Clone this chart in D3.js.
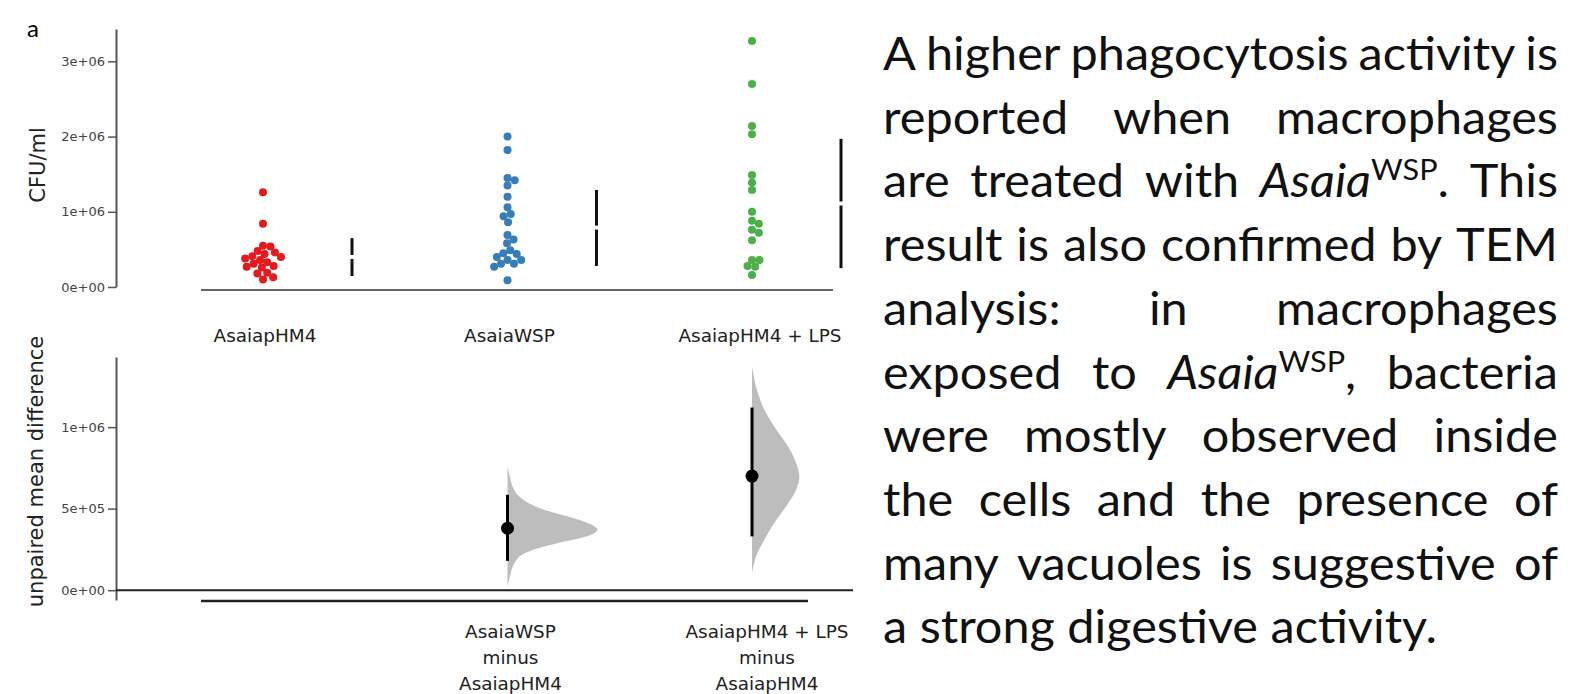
<!DOCTYPE html>
<html>
<head>
<meta charset="utf-8">
<script src="https://cdn.jsdelivr.net/npm/d3@7"></script>
<style>
  html, body { margin: 0; padding: 0; background: #fff; }
  svg { display: block; }
</style>
</head>
<body>
<div id="container"></div>
<script>
'use strict';

const w = 1574;
const h = 694;

// ---- data ----
const groups = ['AsaiapHM4', 'AsaiaWSP', 'AsaiapHM4 + LPS'];
const groupColors = ['#e41a1c', '#377eb8', '#4daf4a'];

const cfuPHM4 = [1.26e6, 0.84e6, 0.55e6, 0.54e6, 0.48e6, 0.46e6, 0.44e6, 0.41e6, 0.40e6, 0.38e6,
                 0.36e6, 0.33e6, 0.31e6, 0.28e6, 0.27e6, 0.26e6, 0.19e6, 0.18e6, 0.13e6, 0.10e6];
const cfuWSP = [2.00e6, 1.82e6, 1.45e6, 1.42e6, 1.35e6, 1.20e6, 1.06e6, 0.97e6, 0.94e6, 0.86e6,
                0.69e6, 0.63e6, 0.58e6, 0.49e6, 0.45e6, 0.44e6, 0.40e6, 0.36e6, 0.36e6, 0.31e6,
                0.31e6, 0.27e6, 0.09e6];
const cfuLPS = [3.27e6, 2.70e6, 2.14e6, 2.03e6, 1.49e6, 1.39e6, 1.29e6, 1.00e6, 0.88e6, 0.84e6,
                0.76e6, 0.72e6, 0.62e6, 0.36e6, 0.36e6, 0.28e6, 0.27e6, 0.16e6];

// mean +/- sd bars next to each swarm
const barMean = [0.40e6, 0.79e6, 1.11e6];
const barLow = [0.146e6, 0.28e6, 0.25e6];
const barHigh = [0.65e6, 1.29e6, 1.97e6];

const cfuTicks = [0, 1e6, 2e6, 3e6];
const diffTicks = [0, 5e5, 1e6];

// unpaired mean differences vs AsaiapHM4
const diffGroups = ['AsaiaWSP', 'AsaiapHM4 + LPS'];
const diffLabels = [['AsaiaWSP', 'minus', 'AsaiapHM4'], ['AsaiapHM4 + LPS', 'minus', 'AsaiapHM4']];
const diffMean = [0.38e6, 0.70e6];
const diffCiLow = [0.18e6, 0.33e6];
const diffCiHigh = [0.585e6, 1.12e6];

// bootstrap distributions: [difference, relative density]
const densWSP = [[0.759e6, 0], [0.697e6, 0.026], [0.636e6, 0.056], [0.574e6, 0.13], [0.513e6, 0.31],
                 [0.472e6, 0.54], [0.431e6, 0.80], [0.40e6, 0.94], [0.373e6, 1.0], [0.349e6, 0.96],
                 [0.318e6, 0.80], [0.287e6, 0.54], [0.246e6, 0.28], [0.205e6, 0.13], [0.143e6, 0.056],
                 [0.082e6, 0.026], [0.02e6, 0]];
const densLPS = [[1.374e6, 0], [1.251e6, 0.044], [1.128e6, 0.119], [1.005e6, 0.244], [0.882e6, 0.40],
                 [0.78e6, 0.489], [0.697e6, 0.526], [0.615e6, 0.489], [0.513e6, 0.378], [0.41e6, 0.244],
                 [0.308e6, 0.137], [0.205e6, 0.044], [0.103e6, 0]];

const paraLines = [
    ['A', 'higher', 'phagocytosis', 'activity', 'is'],
    ['reported', 'when', 'macrophages'],
    ['are', 'treated', 'with', [['Asaia', 'i'], ['WSP', 'sup'], ['.', '']], 'This'],
    ['result', 'is', 'also', 'confirmed', 'by', 'TEM'],
    ['analysis:', 'in', 'macrophages'],
    ['exposed', 'to', [['Asaia', 'i'], ['WSP', 'sup'], [',', '']], 'bacteria'],
    ['were', 'mostly', 'observed', 'inside'],
    ['the', 'cells', 'and', 'the', 'presence', 'of'],
    ['many', 'vacuoles', 'is', 'suggestive', 'of'],
    ['a', 'strong', 'digestive', 'activity.']
];

// ---- setup ----
const svg = d3.select('#container')
                .append('svg')
                .attr('width', w)
                .attr('height', h);

const axisX = 116;
const x = d3.scalePoint().domain(groups).range([263, 752]);
const yTop = d3.scaleLinear().domain([0, 3.43e6]).range([287, 29]);
const yBot = d3.scaleLinear().domain([-0.06e6, 1.43e6]).range([600, 357]);
const densW = d3.scaleLinear().domain([0, 1]).range([0, 90]);

const sci = (v) => {
    if (v === 0) return '0e+00';
    const e = Math.floor(Math.log10(v));
    const m = Math.round(v / Math.pow(10, e));
    return m + 'e+' + String(e).padStart(2, '0');
};

function styleAxis(g) {
    g.select('.domain').attr('stroke', '#555').attr('stroke-width', 2);
    g.selectAll('.tick line').attr('stroke', '#555').attr('stroke-width', 1.5);
    g.selectAll('.tick text')
        .attr('fill', '#444')
        .style('font-family', '"DejaVu Sans", sans-serif')
        .style('font-size', '13px');
}

// panel letter
svg.append('text')
    .attr('x', 27)
    .attr('y', 37)
    .style('font-family', 'Lato, sans-serif')
    .style('font-size', '24px')
    .text('a');

// ---- top panel: swarm plot ----
svg.append('g')
    .attr('transform', 'translate(' + axisX + ',0)')
    .call(d3.axisLeft(yTop).tickValues(cfuTicks).tickFormat(sci).tickSize(8).tickSizeOuter(0).tickPadding(3))
    .call(styleAxis);

svg.append('line')
    .attr('x1', 201).attr('x2', 833)
    .attr('y1', yTop(0) + 3).attr('y2', yTop(0) + 3)
    .attr('stroke', '#666')
    .attr('stroke-width', 2);

svg.append('text')
    .attr('transform', 'translate(45,' + ((yTop.range()[0] + yTop.range()[1]) / 2 + 7) + ') rotate(-90)')
    .attr('text-anchor', 'middle')
    .style('font-family', '"DejaVu Sans", sans-serif')
    .style('font-size', '21px')
    .attr('fill', '#222')
    .text('CFU/ml');

function swarm(values, cx, d) {
    const placed = [];
    values.map((v) => ({v: v, y: yTop(v)}))
        .sort((a, b) => a.y - b.y)
        .forEach((p) => {
            const cands = [0];
            placed.forEach((q) => {
                const dy = p.y - q.y;
                if (Math.abs(dy) < d) {
                    const dx = Math.sqrt(d * d - dy * dy);
                    cands.push(q.dx + dx, q.dx - dx);
                }
            });
            cands.sort((a, b) => Math.abs(a) - Math.abs(b));
            p.dx = cands.find((c) => placed.every((q) => (c - q.dx) ** 2 + (p.y - q.y) ** 2 >= d * d - 0.01));
            placed.push(p);
        });
    return placed.map((p) => ({x: cx + p.dx, y: p.y}));
}

[cfuPHM4, cfuWSP, cfuLPS].forEach((vals, i) => {
    svg.append('g')
        .selectAll('circle')
        .data(swarm(vals, x(groups[i]), 7.5))
        .enter()
        .append('circle')
        .attr('cx', (d) => d.x)
        .attr('cy', (d) => d.y)
        .attr('r', 4)
        .attr('fill', groupColors[i]);
});

const bars = svg.append('g');
groups.forEach((g, i) => {
    const bx = x(g) + 89;
    bars.append('line')
        .attr('x1', bx).attr('x2', bx)
        .attr('y1', yTop(barHigh[i])).attr('y2', yTop(barMean[i]) - 2)
        .attr('stroke', '#111').attr('stroke-width', 3);
    bars.append('line')
        .attr('x1', bx).attr('x2', bx)
        .attr('y1', yTop(barMean[i]) + 2).attr('y2', yTop(barLow[i]))
        .attr('stroke', '#111').attr('stroke-width', 3);
});

svg.append('g')
    .selectAll('text')
    .data(groups)
    .enter()
    .append('text')
    .attr('x', (d) => x(d) + (d === groups[2] ? 8 : 2))
    .attr('y', 342)
    .attr('text-anchor', 'middle')
    .style('font-family', '"DejaVu Sans", sans-serif')
    .style('font-size', '18.4px')
    .attr('fill', '#222')
    .text((d) => d);

// ---- bottom panel: mean differences ----
svg.append('g')
    .attr('transform', 'translate(' + axisX + ',0)')
    .call(d3.axisLeft(yBot).tickValues(diffTicks).tickFormat(sci).tickSize(8).tickSizeOuter(0).tickPadding(3))
    .call(styleAxis);

svg.append('line')
    .attr('x1', axisX).attr('x2', 853)
    .attr('y1', yBot(0)).attr('y2', yBot(0))
    .attr('stroke', '#222')
    .attr('stroke-width', 2);

svg.append('line')
    .attr('x1', 201).attr('x2', 808)
    .attr('y1', yBot.range()[0] + 1).attr('y2', yBot.range()[0] + 1)
    .attr('stroke', '#222')
    .attr('stroke-width', 2.5);

svg.append('text')
    .attr('transform', 'translate(43,' + ((yBot.range()[0] + yBot.range()[1]) / 2 - 7) + ') rotate(-90)')
    .attr('text-anchor', 'middle')
    .style('font-family', '"DejaVu Sans", sans-serif')
    .style('font-size', '21px')
    .attr('fill', '#222')
    .text('unpaired mean difference');

[densWSP, densLPS].forEach((dens, i) => {
    const cx = x(diffGroups[i]);
    const area = d3.area()
                    .x0(cx)
                    .x1((d) => cx + densW(d[1]))
                    .y((d) => yBot(d[0]))
                    .curve(d3.curveCatmullRom);
    svg.append('path')
        .attr('d', area(dens))
        .attr('fill', '#bdbdbd');
    svg.append('line')
        .attr('x1', cx).attr('x2', cx)
        .attr('y1', yBot(diffCiHigh[i])).attr('y2', yBot(diffCiLow[i]))
        .attr('stroke', '#000').attr('stroke-width', 3);
    svg.append('circle')
        .attr('cx', cx)
        .attr('cy', yBot(diffMean[i]))
        .attr('r', 6.5)
        .attr('fill', '#000');

    const lbl = svg.append('text')
                    .attr('text-anchor', 'middle')
                    .style('font-family', '"DejaVu Sans", sans-serif')
                    .style('font-size', '18.4px')
                    .attr('fill', '#222');
    diffLabels[i].forEach((t, k) => {
        lbl.append('tspan')
            .attr('x', cx + (i === 1 ? 15 : 3))
            .attr('y', 638 + k * 26)
            .text(t);
    });
});

// ---- justified paragraph on the right ----
const textLeft = 883;
const textRight = 1558;
const lastLineWidth = 554;
const fontSize = 46;
const supSize = 29;
const lineStep = 63.7;
const firstBaseline = 70;

const para = svg.append('g')
                .style('font-family', 'Lato, "Open Sans", sans-serif')
                .style('font-weight', 400)
                .style('font-size', fontSize + 'px')
                .attr('fill', '#111');

function addWord(parent, word) {
    const t = parent.append('text');
    const segs = typeof word === 'string' ? [[word, '']] : word;
    let raised = false;
    segs.forEach((s) => {
        const ts = t.append('tspan').text(s[0]);
        if (s[1] === 'i') ts.style('font-style', 'italic');
        if (s[1] === 'sup') {
            ts.style('font-size', supSize + 'px').attr('dy', -17);
            raised = true;
        } else if (raised) {
            ts.attr('dy', 17);
            raised = false;
        }
    });
    return t;
}

// horizontal squeeze so the font matches the narrower original face
const probe = para.append('text').text(paraLines[paraLines.length - 1].join(' '));
const sx = lastLineWidth / probe.node().getComputedTextLength();
probe.remove();
const spaceProbe = para.append('text').text('a a');
const aProbe = para.append('text').text('aa');
const spaceW = (spaceProbe.node().getComputedTextLength() - aProbe.node().getComputedTextLength()) * sx;
spaceProbe.remove();
aProbe.remove();

paraLines.forEach((line, li) => {
    const yy = firstBaseline + li * lineStep;
    const words = line.map((wd) => addWord(para, wd));
    const widths = words.map((t) => t.node().getComputedTextLength() * sx);
    const total = d3.sum(widths);
    const last = li === paraLines.length - 1;
    const gap = last ? spaceW : (textRight - textLeft - total) / (words.length - 1);
    let cur = textLeft;
    words.forEach((t, k) => {
        t.attr('transform', 'translate(' + cur + ',' + yy + ') scale(' + sx + ',1)');
        cur += widths[k] + gap;
    });
});
</script>
</body>
</html>
